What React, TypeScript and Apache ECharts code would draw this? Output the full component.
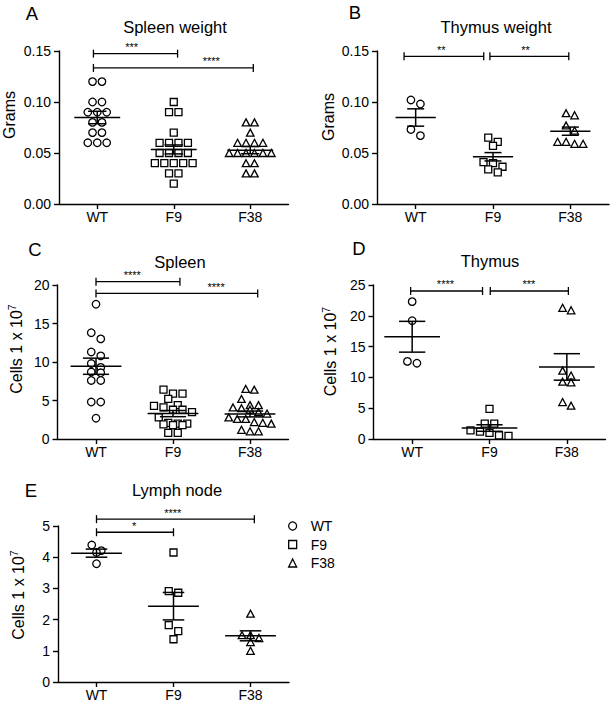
import React, { useEffect, useRef } from "react";
import * as echarts from "echarts";

const FONT = "'Liberation Sans', Arial, Helvetica, sans-serif";

const groups = ["WT", "F9", "F38"];

// A — Spleen weight (grams)
const spleenWeightWT = [0.12, 0.12, 0.1, 0.1, 0.09, 0.09, 0.09, 0.08, 0.08, 0.07, 0.07, 0.06, 0.06, 0.06];
const spleenWeightF9 = [0.1, 0.09, 0.09, 0.07, 0.06, 0.06, 0.06, 0.06, 0.05, 0.05, 0.05, 0.05, 0.04, 0.04, 0.04, 0.04, 0.04, 0.03, 0.03, 0.02];
const spleenWeightF38 = [0.08, 0.08, 0.07, 0.06, 0.06, 0.06, 0.06, 0.05, 0.05, 0.05, 0.05, 0.05, 0.05, 0.04, 0.04, 0.03, 0.03];
const spleenWeightMean = [0.0848, 0.0535, 0.0528];
const spleenWeightSem = [0.0061, 0.0044, 0.0035];
const spleenWeightSig = [
  { from: -0.05, to: 1.05, y: 0.1474, at: 0.45, label: "***" },
  { from: -0.05, to: 2.04, y: 0.1334, at: 1.49, label: "****" },
];

// B — Thymus weight (grams)
const thymusWeightWT = [0.102, 0.098, 0.073, 0.067];
const thymusWeightF9 = [0.065, 0.061, 0.057, 0.041, 0.04, 0.0365, 0.034, 0.031];
const thymusWeightF38 = [0.089, 0.087, 0.077, 0.072, 0.061, 0.061, 0.059, 0.059];
const thymusWeightMean = [0.0848, 0.0463, 0.0714];
const thymusWeightSem = [0.0085, 0.0041, 0.004];
const thymusWeightSig = [
  { from: -0.15, to: 0.88, y: 0.1448, at: 0.33, label: "**" },
  { from: 0.96, to: 1.98, y: 0.1448, at: 1.42, label: "**" },
];

// C — Spleen cells (x 10^7)
const spleenCellsWT = [17.5, 13.8, 13.0, 11.3, 10.8, 9.8, 9.3, 8.7, 8.6, 7.6, 7.6, 4.8, 4.8, 2.7];
const spleenCellsF9 = [6.4, 5.9, 5.9, 5.2, 4.4, 4.3, 4.1, 3.8, 3.8, 3.5, 2.8, 2.1, 2.0, 2.0, 1.9, 1.8, 1.8, 0.8, 0.8];
const spleenCellsF38 = [6.5, 6.4, 5.2, 4.4, 4.4, 4.1, 4.0, 3.8, 3.5, 3.3, 2.8, 2.6, 2.6, 2.2, 2.1, 2.0, 1.2, 1.0, 1.0];
const spleenCellsMean = [9.45, 3.3, 3.25];
const spleenCellsSem = [1.05, 0.4, 0.38];
const spleenCellsSig = [
  { from: 0, to: 1.09, y: 20.43, at: 0.47, label: "****" },
  { from: 0, to: 2.1, y: 18.9, at: 1.56, label: "****" },
];

// D — Thymus cells (x 10^7)
const thymusCellsWT = [22.3, 19.2, 12.6, 12.3];
const thymusCellsF9 = [4.9, 2.5, 2.5, 1.4, 1.2, 1.0, 0.6, 0.5];
const thymusCellsF38 = [21.3, 20.9, 11.1, 10.3, 9.3, 9.2, 6.0, 5.4];
const thymusCellsMean = [16.6, 1.78, 11.7];
const thymusCellsSem = [2.5, 0.53, 2.15];
const thymusCellsSig = [
  { from: -0.02, to: 0.91, y: 24.03, at: 0.43, label: "****" },
  { from: 1.01, to: 2.02, y: 24.03, at: 1.51, label: "***" },
];

// E — Lymph node cells (x 10^7)
const lymphCellsWT = [4.39, 4.21, 4.15, 3.79];
const lymphCellsF9 = [4.15, 2.91, 2.86, 1.82, 1.63, 1.37];
const lymphCellsF38 = [2.19, 1.5, 1.5, 1.41, 1.28, 1.0];
const lymphCellsMean = [4.13, 2.43, 1.48];
const lymphCellsSem = [0.13, 0.44, 0.16];
const lymphCellsSig = [
  { from: 0, to: 2.05, y: 5.22, at: 0.99, label: "****" },
  { from: 0, to: 1.0, y: 4.8, at: 0.49, label: "*" },
];

const CELLS_NAME = "{n|Cells 1 x 10}{s|7}";
const GRAMS_NAME = "{g|Grams}";

const panels = [
  { letter: "A", title: "Spleen weight", yName: GRAMS_NAME, values: [spleenWeightWT, spleenWeightF9, spleenWeightF38], mean: spleenWeightMean, sem: spleenWeightSem, sig: spleenWeightSig, yMax: 0.15, yStep: 0.05, decimals: 2 },
  { letter: "B", title: "Thymus weight", yName: GRAMS_NAME, values: [thymusWeightWT, thymusWeightF9, thymusWeightF38], mean: thymusWeightMean, sem: thymusWeightSem, sig: thymusWeightSig, yMax: 0.15, yStep: 0.05, decimals: 2 },
  { letter: "C", title: "Spleen", yName: CELLS_NAME, values: [spleenCellsWT, spleenCellsF9, spleenCellsF38], mean: spleenCellsMean, sem: spleenCellsSem, sig: spleenCellsSig, yMax: 20, yStep: 5, decimals: 0 },
  { letter: "D", title: "Thymus", yName: CELLS_NAME, values: [thymusCellsWT, thymusCellsF9, thymusCellsF38], mean: thymusCellsMean, sem: thymusCellsSem, sig: thymusCellsSig, yMax: 25, yStep: 5, decimals: 0 },
  { letter: "E", title: "Lymph node", yName: CELLS_NAME, values: [lymphCellsWT, lymphCellsF9, lymphCellsF38], mean: lymphCellsMean, sem: lymphCellsSem, sig: lymphCellsSig, yMax: 5, yStep: 1, decimals: 0 },
];

// layout (pixels)
const layouts = [
  { left: 57.5, top: 51, width: 231, height: 153, nameGap: 42, nameShift: 12.5, titleX: 175, titleY: 27, letterX: 32, letterY: 13, meanHalf: 0.3, capHalf: 0.12 },
  { left: 377, top: 51, width: 232, height: 153, nameGap: 41, nameShift: 10.5, titleX: 496, titleY: 27, letterX: 355, letterY: 12, meanHalf: 0.26, capHalf: 0.11 },
  { left: 57.5, top: 285, width: 231, height: 154, nameGap: 33, nameShift: 13, titleX: 180, titleY: 262, letterX: 35, letterY: 249, meanHalf: 0.33, capHalf: 0.17 },
  { left: 373.5, top: 285, width: 232, height: 154, nameGap: 35, nameShift: 10.5, titleX: 490, titleY: 261, letterX: 359, letterY: 248, meanHalf: 0.36, capHalf: 0.17 },
  { left: 58, top: 526, width: 231, height: 156, nameGap: 32, nameShift: 9, titleX: 177, titleY: 490, letterX: 31, letterY: 490, meanHalf: 0.33, capHalf: 0.14 },
];

const symbols = ["circle", "rect", "triangle"];
const symbolSizes: any[] = [7.5, 7, [7.5, 7]];
const spacings = [9.5, 9.5, 8.5];
const ROW_THRESHOLD = 6.5;

// Prism-like scatter-dot layout: near-equal values share a centered row
function swarm(values: number[], cat: number, pxPerY: number, pxPerX: number, spacing: number) {
  const sorted = [...values].sort((a, b) => b - a);
  const rows: number[][] = [];
  for (const v of sorted) {
    const row = rows[rows.length - 1];
    if (row && (row[0] - v) * pxPerY < ROW_THRESHOLD) row.push(v);
    else rows.push([v]);
  }
  const pts: number[][] = [];
  rows.forEach((row) => {
    const n = row.length;
    row.forEach((v, i) => pts.push([cat + ((i - (n - 1) / 2) * spacing) / pxPerX, v]));
  });
  return pts;
}

function buildOption() {
  const BLACK = "#000";
  const series: any[] = [];
  panels.forEach((p, i) => {
    const L = layouts[i];
    const pxPerY = L.height / p.yMax;
    const pxPerX = L.width / 3;
    p.values.forEach((vals, g) => {
      series.push({
        type: "scatter",
        name: groups[g],
        xAxisIndex: i,
        yAxisIndex: i,
        symbol: symbols[g],
        symbolSize: symbolSizes[g],
        itemStyle: { color: "#fff", borderColor: BLACK, borderWidth: 1.3, opacity: 1 },
        silent: true,
        z: 2,
        data: swarm(vals, g, pxPerY, pxPerX, spacings[g]),
      });
    });
    series.push({
      type: "custom",
      xAxisIndex: i,
      yAxisIndex: i,
      silent: true,
      z: 3,
      data: groups.map((_, g) => [g, p.mean[g], p.sem[g]]),
      renderItem: (_params: any, api: any) => {
        const c = api.value(0);
        const m = api.value(1);
        const s = api.value(2);
        const unit = api.size([1, 0])[0];
        const pm = api.coord([c, m]);
        const pt = api.coord([c, m + s]);
        const pb = api.coord([c, m - s]);
        const mh = L.meanHalf * unit;
        const ch = L.capHalf * unit;
        const st = { stroke: BLACK, lineWidth: 1.5 };
        return {
          type: "group",
          children: [
            { type: "line", shape: { x1: pm[0] - mh, y1: pm[1], x2: pm[0] + mh, y2: pm[1] }, style: st },
            { type: "line", shape: { x1: pt[0], y1: pt[1], x2: pb[0], y2: pb[1] }, style: st },
            { type: "line", shape: { x1: pt[0] - ch, y1: pt[1], x2: pt[0] + ch, y2: pt[1] }, style: st },
            { type: "line", shape: { x1: pb[0] - ch, y1: pb[1], x2: pb[0] + ch, y2: pb[1] }, style: st },
          ],
        };
      },
    });
    series.push({
      type: "custom",
      xAxisIndex: i,
      yAxisIndex: i,
      silent: true,
      clip: false,
      z: 3,
      data: p.sig.map((s, k) => [s.from, s.y, s.to, s.at, k]),
      renderItem: (_params: any, api: any) => {
        const from = api.value(0);
        const y = api.value(1);
        const to = api.value(2);
        const at = api.value(3);
        const k = api.value(4);
        const p1 = api.coord([from, y]);
        const p2 = api.coord([to, y]);
        const pl = api.coord([at, y]);
        const st = { stroke: BLACK, lineWidth: 1.3 };
        const t = 4;
        return {
          type: "group",
          children: [
            { type: "line", shape: { x1: p1[0], y1: p1[1], x2: p2[0], y2: p2[1] }, style: st },
            { type: "line", shape: { x1: p1[0], y1: p1[1] - t, x2: p1[0], y2: p1[1] + t }, style: st },
            { type: "line", shape: { x1: p2[0], y1: p2[1] - t, x2: p2[0], y2: p2[1] + t }, style: st },
            {
              type: "text",
              x: pl[0],
              y: p1[1] - 1,
              style: { text: p.sig[k].label, fill: BLACK, fontSize: 11, fontFamily: FONT, align: "center", verticalAlign: "bottom" },
            },
          ],
        };
      },
    });
  });

  const graphic: any[] = [];
  panels.forEach((p, i) => {
    const L = layouts[i];
    graphic.push({
      type: "text",
      x: L.titleX,
      y: L.titleY,
      style: { text: p.title, fill: BLACK, fontSize: 16.5, fontFamily: FONT, align: "center", verticalAlign: "middle" },
    });
    graphic.push({
      type: "text",
      x: L.letterX,
      y: L.letterY,
      style: { text: p.letter, fill: BLACK, fontSize: 18.5, fontFamily: FONT, align: "center", verticalAlign: "middle" },
    });
  });

  return {
    animation: false,
    backgroundColor: "#fff",
    textStyle: { fontFamily: FONT },
    grid: layouts.map((L) => ({ left: L.left, top: L.top, width: L.width, height: L.height, containLabel: false })),
    xAxis: panels.map((_, i) => ({
      type: "value",
      gridIndex: i,
      min: -0.5,
      max: 2.5,
      axisLine: { show: true, onZero: false, lineStyle: { color: BLACK, width: 1.4 } },
      axisTick: { show: true, customValues: [0, 1, 2], length: 5, lineStyle: { color: BLACK, width: 1.4 } },
      axisLabel: {
        customValues: [0, 1, 2],
        formatter: (v: number) => groups[Math.round(v)],
        color: BLACK,
        fontSize: 14,
        margin: 6,
        fontFamily: FONT,
      },
      splitLine: { show: false },
    })),
    yAxis: panels.map((p, i) => ({
      type: "value",
      gridIndex: i,
      min: 0,
      max: p.yMax,
      interval: p.yStep,
      name: p.yName,
      nameLocation: "middle",
      nameGap: layouts[i].nameGap,
      nameTextStyle: {
        color: BLACK,
        fontSize: 16,
        fontFamily: FONT,
        padding: [0, 0, 0, layouts[i].nameShift * 2],
        rich: {
          g: { fontSize: 16, lineHeight: 16, color: BLACK, fontFamily: FONT },
          n: { fontSize: 16, lineHeight: 18, verticalAlign: "bottom", color: BLACK, fontFamily: FONT },
          s: { fontSize: 10.5, lineHeight: 11, verticalAlign: "top", color: BLACK, fontFamily: FONT },
        },
      },
      axisLine: { show: true, onZero: false, lineStyle: { color: BLACK, width: 1.4 } },
      axisTick: { show: true, length: 5, lineStyle: { color: BLACK, width: 1.4 } },
      axisLabel: {
        color: BLACK,
        fontSize: 14,
        margin: 8,
        fontFamily: FONT,
        formatter: (v: number) => v.toFixed(p.decimals),
      },
      splitLine: { show: false },
    })),
    legend: {
      orient: "vertical",
      left: 288,
      top: 519,
      padding: 0,
      itemWidth: 8,
      itemHeight: 8,
      itemGap: 4.5,
      selectedMode: false,
      data: groups,
      itemStyle: { borderWidth: 1.3 },
      textStyle: { fontSize: 14, color: BLACK, fontFamily: FONT, padding: [0, 0, 0, 9] },
    },
    graphic,
    series,
  };
}

export default function App() {
  const ref = useRef<HTMLDivElement>(null);
  useEffect(() => {
    if (!ref.current) return;
    const chart = echarts.init(ref.current, null, { renderer: "svg" });
    chart.setOption(buildOption() as any);
    return () => chart.dispose();
  }, []);
  return (
    <div
      ref={ref}
      style={{ position: "absolute", left: 0, top: 0, width: 611, height: 702, background: "#fff" }}
    />
  );
}
